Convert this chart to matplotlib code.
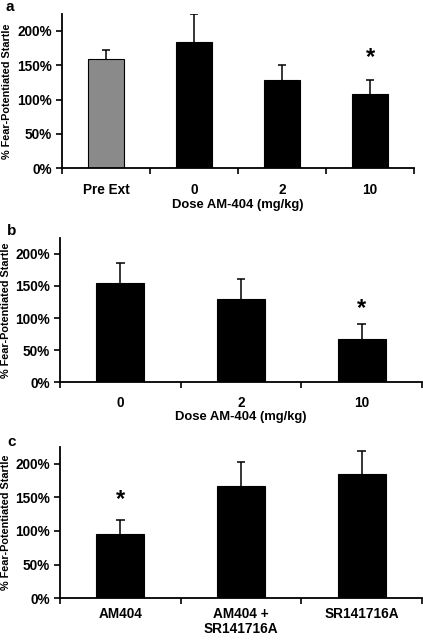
import matplotlib
matplotlib.use("Agg")
import matplotlib.pyplot as plt
from matplotlib import font_manager

plt.rcParams['font.family'] = ['Liberation Sans', 'DejaVu Sans']
plt.rcParams['font.weight'] = 'bold'

names = {f.name for f in font_manager.fontManager.ttflist}
narrow = ['Liberation Sans Narrow', 'Liberation Sans'] if 'Liberation Sans Narrow' in names else ['Liberation Sans']
ylab_size = 9.2 if 'Liberation Sans Narrow' in names else 7.8

# Panel a
cats_a = ["Pre Ext", "0", "2", "10"]
vals_a = [158.7, 184.4, 128.6, 107.8]
err_a = [13.3, 40.3, 22.3, 20.8]
colors_a = ["#8a8a8a", "black", "black", "black"]
star_a = {3: 162}

# Panel b
cats_b = ["0", "2", "10"]
vals_b = [154, 129.6, 68]
err_b = [32, 31.4, 23]
star_b = {2: 115}

# Panel c
cats_c = ["AM404", "AM404 +\nSR141716A", "SR141716A"]
vals_c = [95, 167, 184]
err_c = [22, 35.5, 35]
star_c = {0: 147}

yticks = [0, 50, 100, 150, 200]
ytick_labels = ["0%", "50%", "100%", "150%", "200%"]
ylabel = "% Fear-Potentiated Startle"
xlabel = "Dose AM-404 (mg/kg)"

W, H = 423, 640
fig = plt.figure(figsize=(W / 100, H / 100), dpi=100)


def make_ax(left, right, y0, scale, ymax=225):
    top = y0 - ymax * scale
    return fig.add_axes([left / W, 1 - y0 / H, (right - left) / W, (y0 - top) / H])


def draw(ax, cats, vals, errs, colors, stars, xl, bw, capw, xpad=10.5, lpad=1.5):
    n = len(cats)
    x = list(range(n))
    tops = [v + e for v, e in zip(vals, errs)]
    ax.vlines(x, vals, tops, color="black", linewidth=1.1, zorder=1)
    ax.hlines(tops, [i - capw for i in x], [i + capw for i in x], color="black", linewidth=1.1, zorder=1)
    ax.bar(x, vals, width=bw, color=colors, edgecolor="black", linewidth=0.8, zorder=2)
    for i, yv in stars.items():
        ax.text(i, yv, "*", ha="center", va="center", fontsize=17, fontweight="bold")
    ax.set_xlim(-0.5, n - 0.5)
    ax.set_ylim(0, 225)
    ax.set_yticks(yticks)
    ax.set_yticklabels(ytick_labels, fontsize=9.8, fontweight="bold")
    ax.set_xticks([i - 0.5 for i in range(n + 1)])
    ax.set_xticklabels([])
    ax.set_xticks(x, minor=True)
    ax.set_xticklabels(cats, minor=True, fontsize=9.8, fontweight="bold", linespacing=1.1)
    ax.tick_params(axis="x", which="minor", length=0, pad=xpad)
    ax.tick_params(axis="x", which="major", length=4.5, width=1.2, direction="out")
    ax.tick_params(axis="y", length=4, width=1.2, direction="out", pad=3)
    for s in ["top", "right"]:
        ax.spines[s].set_visible(False)
    for s in ["left", "bottom"]:
        ax.spines[s].set_linewidth(1.3)
    ax.set_ylabel(ylabel, fontsize=ylab_size, fontweight="bold", family=narrow)
    ax.yaxis.set_label_coords((11.5 - ax.get_position().x0 * W) / (ax.get_position().width * W), 0.5)
    if xl:
        ax.set_xlabel(xl, fontsize=9.4, fontweight="bold", labelpad=lpad)


ax_a = make_ax(62, 414, 168.3, 0.6867)
draw(ax_a, cats_a, vals_a, err_a, colors_a, star_a, xlabel, 0.41, 0.05, xpad=10.5, lpad=1.5)
ax_b = make_ax(60, 422, 382.3, 0.643)
draw(ax_b, cats_b, vals_b, err_b, ["black"] * 3, star_b, xlabel, 0.40, 0.037, xpad=10, lpad=0.3)
ax_c = make_ax(60, 422, 598.3, 0.6735)
draw(ax_c, cats_c, vals_c, err_c, ["black"] * 3, star_c, None, 0.40, 0.037, xpad=6.5)

fig.text(10 / W, 1 - 7 / H, "a", fontsize=11, fontweight="bold", ha="center", va="center")
fig.text(12 / W, 1 - 231 / H, "b", fontsize=11, fontweight="bold", ha="center", va="center")
fig.text(12 / W, 1 - 442 / H, "c", fontsize=11, fontweight="bold", ha="center", va="center")

fig.savefig("out.png", dpi=100)
